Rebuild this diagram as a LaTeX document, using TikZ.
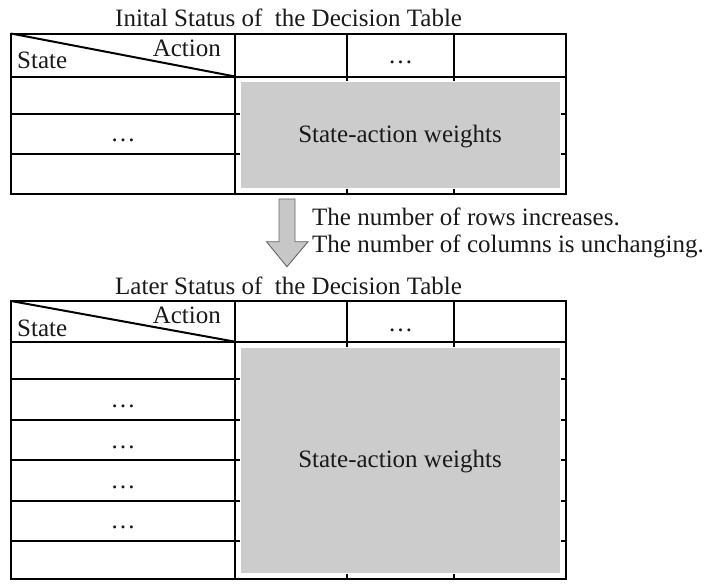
\documentclass[tikz,border=0pt]{standalone}
\usepackage{fontspec}
\setmainfont{Liberation Serif}
\begin{document}
\begin{tikzpicture}[x=1pt,y=-1pt,
  every node/.style={inner sep=0pt, font=\fontsize{25}{27}\selectfont, text=black!90},
  gridline/.style={line width=2pt, black},
  weights/.style={fill=black!20, draw=white, line width=1pt},
  bigarrow/.style={fill=black!22, draw=black!60, line width=0.9pt, line join=miter},
  lbl/.style={anchor=base},
  lblw/.style={anchor=base west},
  lble/.style={anchor=base east}]
\useasboundingbox (0,0) rectangle (707,584);

% ---------- first table: initial status ----------
\node[lblw] (title1) at (115,26.7) {Inital Status of~ the Decision Table};
\draw[gridline] (11,33.5) rectangle (566,194);
\foreach \y in {76.5,114,153.5} \draw[gridline] (11,\y) -- (566,\y);
\foreach \x in {235,346.7,454.3} \draw[gridline] (\x,33.5) -- (\x,194);
\draw[gridline] (11,33.5) -- (235,76.5);
\node[lblw] (state1) at (17,68) {State};
\node[lble] (action1) at (221,56.7) {Action};
\node[lbl] (hdots1) at (400.5,63) {…};
\node[lbl] (rdots1) at (123,141.7) {…};
\fill[weights] (240,81.7) rectangle (560,188.3);
\node[lbl] (w1) at (400,142) {State-action weights};

% ---------- transition arrow and note ----------
\draw[bigarrow] (279,199) -- (295,199) -- (295,241.7) -- (308,241.7)
  -- (287,266.7) -- (266.5,241.7) -- (279,241.7) -- cycle;
\node[lblw] (note1) at (312,225) {The number of rows increases.};
\node[lblw] (note2) at (312,252) {The number of columns is unchanging.};

% ---------- second table: later status ----------
\node[lblw] (title2) at (115,294.5) {Later Status of~ the Decision Table};
\draw[gridline] (11,301) rectangle (566,579.3);
\foreach \y in {341.7,379.3,420,460,500.7,540.7} \draw[gridline] (11,\y) -- (566,\y);
\foreach \x in {235,346.7,454.3} \draw[gridline] (\x,301) -- (\x,579.3);
\draw[gridline] (11,301) -- (235,341.7);
\node[lblw] (state2) at (17,336) {State};
\node[lble] (action2) at (221,323.3) {Action};
\node[lbl] (hdots2) at (400.5,331) {…};
\foreach \y/\n in {407.5/a,448/b,488.3/c,528.7/d}
  \node[lbl] (rdots2\n) at (123,\y) {…};
\fill[weights] (240,347.3) rectangle (560,573.3);
\node[lbl] (w2) at (400,467) {State-action weights};
\end{tikzpicture}
\end{document}
